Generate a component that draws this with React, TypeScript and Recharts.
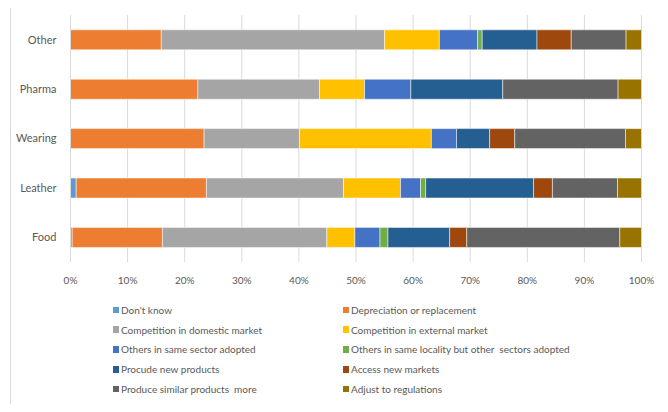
import { Bar, BarChart, CartesianGrid, XAxis, YAxis } from "recharts";

const sectors = ["Other", "Pharma", "Wearing", "Leather", "Food"];

// share of firms (%) per reason, same order as sectors
const dontKnow = [0, 0, 0, 1.0, 0.3];
const depreciation = [15.9, 22.3, 23.4, 22.8, 15.8];
const domesticCompetition = [39.1, 21.3, 16.7, 24.0, 28.8];
const externalCompetition = [9.6, 7.9, 23.1, 10.0, 4.9];
const sameSector = [6.7, 8.1, 4.4, 3.5, 4.4];
const sameLocality = [0.8, 0, 0, 0.9, 1.4];
const newProducts = [9.6, 16.1, 5.8, 18.9, 10.8];
const newMarkets = [6.0, 0, 4.4, 3.3, 3.0];
const similarProducts = [9.6, 20.2, 19.4, 11.4, 26.8];
const regulations = [2.7, 4.1, 2.8, 4.2, 3.8];

const xTicks = [0, 10, 20, 30, 40, 50, 60, 70, 80, 90, 100];

const SERIES = [
  { key: "dontKnow", name: "Don't know", color: "#5B9BD5", values: dontKnow },
  { key: "depreciation", name: "Depreciation or replacement", color: "#ED7D31", values: depreciation },
  { key: "domestic", name: "Competition in domestic market", color: "#A5A5A5", values: domesticCompetition },
  { key: "external", name: "Competition in external market", color: "#FFC000", values: externalCompetition },
  { key: "sameSector", name: "Others in same sector adopted", color: "#4472C4", values: sameSector },
  { key: "sameLocality", name: "Others in same locality but other  sectors adopted", color: "#70AD47", values: sameLocality },
  { key: "newProducts", name: "Procude new products", color: "#255E91", values: newProducts },
  { key: "newMarkets", name: "Access new markets", color: "#9E480E", values: newMarkets },
  { key: "similar", name: "Produce similar products  more", color: "#636363", values: similarProducts },
  { key: "regulations", name: "Adjust to regulations", color: "#997300", values: regulations },
];

const data = sectors.map((sector, i) => {
  const row: Record<string, string | number> = { sector };
  SERIES.forEach((s) => {
    row[s.key] = s.values[i];
  });
  return row;
});

const FONT = "Lato, 'Open Sans', sans-serif";
const TEXT = "#595959";

function LegendGrid() {
  return (
    <div
      style={{
        position: "absolute",
        left: 112.5,
        top: 300,
        display: "grid",
        gridTemplateColumns: "230px 300px",
        fontFamily: FONT,
        fontSize: 10,
        color: TEXT,
      }}
    >
      {SERIES.map((s) => (
        <div
          key={s.key}
          style={{ display: "flex", alignItems: "center", height: 19.8, whiteSpace: "pre" }}
        >
          <span
            style={{
              display: "inline-block",
              width: 6.5,
              height: 6.5,
              background: s.color,
              marginRight: 2,
            }}
          />
          {s.name}
        </div>
      ))}
    </div>
  );
}

export default function App() {
  return (
    <div style={{ position: "relative", width: 668, height: 412, margin: -8, overflow: "hidden", background: "#fff" }}>
      <div
        style={{
          position: "absolute",
          left: 10,
          top: 2,
          width: 656,
          height: 430,
          border: "1px solid #d9d9d9",
          boxSizing: "border-box",
        }}
      />
      <div style={{ position: "absolute", left: 0, top: 0 }}>
        <BarChart
          width={668}
          height={412}
          data={data}
          layout="vertical"
          barCategoryGap="30%"
          margin={{ top: 15, right: 26.5, left: 0, bottom: 0 }}
        >
          <CartesianGrid horizontal={false} stroke="#d9d9d9" />
          <XAxis
            type="number"
            domain={[0, 100]}
            ticks={xTicks}
            tickFormatter={(v) => `${v}%`}
            axisLine={false}
            tickLine={false}
            tickMargin={9}
            height={150}
            tick={{ fill: TEXT, fontSize: 10, fontFamily: FONT }}
          />
          <YAxis
            type="category"
            dataKey="sector"
            width={70.5}
            axisLine={{ stroke: "#d9d9d9" }}
            tickLine={false}
            tickMargin={8}
            tick={{ fill: TEXT, fontSize: 11, fontFamily: FONT }}
          />
          {SERIES.map((s) => (
            <Bar
              key={s.key}
              dataKey={s.key}
              name={s.name}
              stackId="reasons"
              fill={s.color}
              stroke="#ffffff"
              strokeWidth={0.5}
              isAnimationActive={false}
            />
          ))}
        </BarChart>
      </div>
      <LegendGrid />
    </div>
  );
}
